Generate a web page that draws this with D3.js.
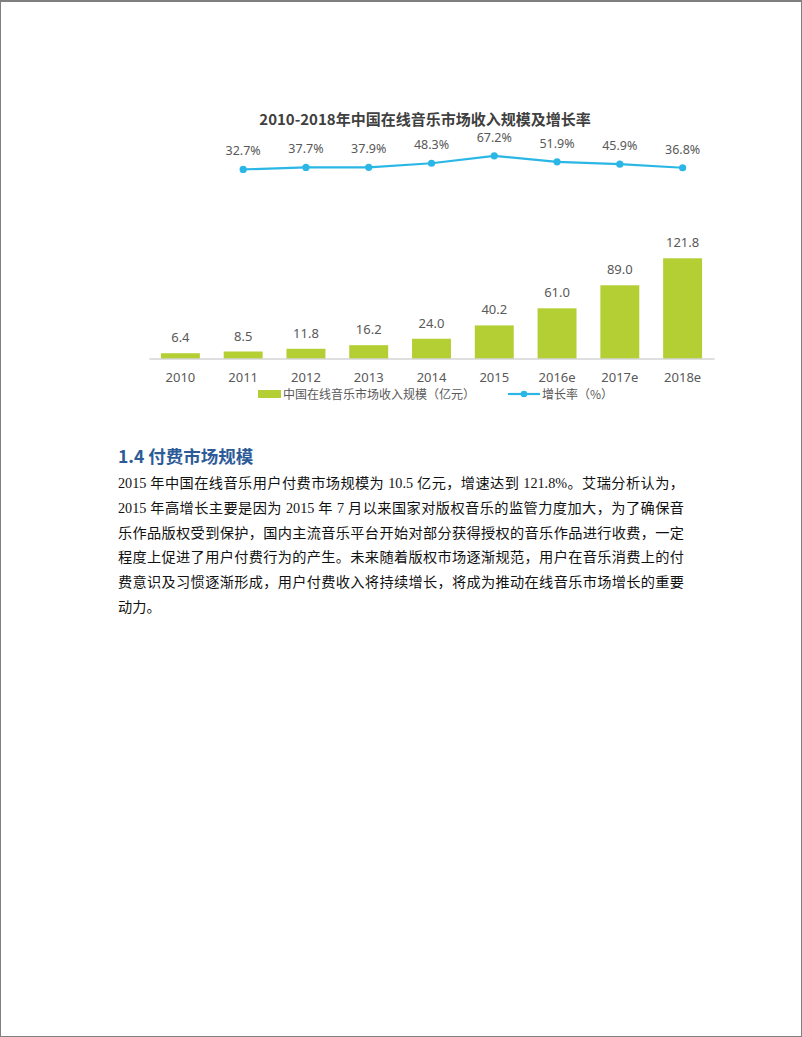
<!DOCTYPE html>
<html>
<head>
<meta charset="utf-8">
<script src="https://cdn.jsdelivr.net/npm/d3@7"></script>
<style>
  body { margin: 0; background: #fff; }
  .page { position: relative; width: 802px; height: 1037px; box-sizing: border-box;
          border: 1px solid #7f7f7f; border-top-width: 2px; overflow: hidden; }
  svg { position: absolute; left: -1px; top: -2px; }
  .section { position: absolute; left: 117px; top: 442px; width: 566px; }
  .section h3 { margin: 0 0 3px 0; font: bold 17.5px "Noto Sans CJK SC", "Noto Sans", sans-serif;
                color: #2d5b98; line-height: 24px; }
  .section .ln { font: 14.2px "Liberation Serif", "Noto Sans CJK SC", serif; color: #111;
                 line-height: 24.8px; height: 24.8px; text-align: justify; text-align-last: justify;
                 white-space: nowrap; }
  .section .ln.last { text-align-last: left; }
</style>
</head>
<body>
<div class="page" id="page">
  <div class="section" id="section"></div>
</div>
<script>
const years = ["2010", "2011", "2012", "2013", "2014", "2015", "2016e", "2017e", "2018e"]
const revenue = [6.4, 8.5, 11.8, 16.2, 24.0, 40.2, 61.0, 89.0, 121.8]
// growth starts at 2011
const growthYears = ["2011", "2012", "2013", "2014", "2015", "2016e", "2017e", "2018e"]
const growth = [32.7, 37.7, 37.9, 48.3, 67.2, 51.9, 45.9, 36.8]

const title = "2010-2018年中国在线音乐市场收入规模及增长率"
const legendBar = "中国在线音乐市场收入规模（亿元）"
const legendLine = "增长率（%）"

const heading = "1.4 付费市场规模"
const bodyLines = [
    "2015 年中国在线音乐用户付费市场规模为 10.5 亿元，增速达到 121.8%。艾瑞分析认为，",
    "2015 年高增长主要是因为 2015 年 7 月以来国家对版权音乐的监管力度加大，为了确保音",
    "乐作品版权受到保护，国内主流音乐平台开始对部分获得授权的音乐作品进行收费，一定",
    "程度上促进了用户付费行为的产生。未来随着版权市场逐渐规范，用户在音乐消费上的付",
    "费意识及习惯逐渐形成，用户付费收入将持续增长，将成为推动在线音乐市场增长的重要",
    "动力。"
]

const barColor = "#b3cf33"
const lineColor = "#2bb7e6"
const textColor = "#595959"
const font = "'Noto Sans', 'Open Sans', 'Noto Sans CJK SC', sans-serif"

const svg = d3.select("#page").insert("svg", ":first-child")
    .attr("width", 802)
    .attr("height", 430)

// title
svg.append("text")
    .attr("x", 425)
    .attr("y", 125)
    .attr("text-anchor", "middle")
    .style("font-family", "'Noto Sans CJK SC', sans-serif")
    .style("font-weight", "bold")
    .style("font-size", "15px")
    .attr("fill", "#404040")
    .text(title)

// scales
const x = d3.scaleBand()
    .domain(years)
    .range([149, 714])
    .paddingInner(0.38)
    .paddingOuter(0.19)

const y = d3.scaleLinear()
    .domain([0, 150])
    .range([358.5, 235.1])

const yLine = d3.scaleLinear()
    .domain([0, 100])
    .range([182.2, 143])

// bars
svg.append("g").selectAll("rect")
    .data(revenue)
    .join("rect")
    .attr("x", (d, i) => x(years[i]))
    .attr("y", d => y(d))
    .attr("width", x.bandwidth())
    .attr("height", d => y(0) - y(d))
    .attr("fill", barColor)

svg.append("g").selectAll("text")
    .data(revenue)
    .join("text")
    .attr("x", (d, i) => x(years[i]) + x.bandwidth() / 2)
    .attr("y", d => y(d) - 11)
    .attr("text-anchor", "middle")
    .style("font-family", font)
    .style("font-size", "13px")
    .attr("fill", textColor)
    .text(d => d.toFixed(1))

// x axis
const xAxis = svg.append("g")
    .attr("transform", `translate(0, ${y(0)})`)
    .call(d3.axisBottom(x).tickSize(0).tickPadding(14))
xAxis.select(".domain").attr("stroke", "#bfbfbf").attr("stroke-width", 1.2)
xAxis.selectAll("text")
    .style("font-family", font)
    .style("font-size", "13px")
    .attr("fill", textColor)

// growth line
const cx = d => x(d) + x.bandwidth() / 2
const line = d3.line()
    .x((d, i) => cx(growthYears[i]))
    .y(d => yLine(d))

svg.append("path")
    .datum(growth)
    .attr("fill", "none")
    .attr("stroke", lineColor)
    .attr("stroke-width", 2.2)
    .attr("stroke-linejoin", "round")
    .attr("d", line)

svg.append("g").selectAll("circle")
    .data(growth)
    .join("circle")
    .attr("cx", (d, i) => cx(growthYears[i]))
    .attr("cy", d => yLine(d))
    .attr("r", 3.6)
    .attr("fill", lineColor)

svg.append("g").selectAll("text")
    .data(growth)
    .join("text")
    .attr("x", (d, i) => cx(growthYears[i]))
    .attr("y", d => yLine(d) - 14)
    .attr("text-anchor", "middle")
    .style("font-family", font)
    .style("font-size", "12.5px")
    .attr("fill", textColor)
    .text(d => d.toFixed(1) + "%")

// legend
const legend = svg.append("g").attr("transform", "translate(0, 394)")
legend.append("rect")
    .attr("x", 258).attr("y", -4)
    .attr("width", 23).attr("height", 8)
    .attr("fill", barColor)
legend.append("text")
    .attr("x", 283).attr("y", 4.5)
    .style("font-family", "'Noto Sans CJK SC', sans-serif")
    .style("font-size", "12px")
    .attr("fill", textColor)
    .text(legendBar)
legend.append("line")
    .attr("x1", 508).attr("x2", 540)
    .attr("stroke", lineColor).attr("stroke-width", 2.2)
legend.append("circle")
    .attr("cx", 524).attr("r", 3.3)
    .attr("fill", lineColor)
legend.append("text")
    .attr("x", 542).attr("y", 4.5)
    .style("font-family", "'Noto Sans CJK SC', sans-serif")
    .style("font-size", "12px")
    .attr("fill", textColor)
    .text(legendLine)

// section text
const section = d3.select("#section")
section.append("h3").text(heading)
section.selectAll("div.ln")
    .data(bodyLines)
    .join("div")
    .attr("class", (d, i) => i === bodyLines.length - 1 ? "ln last" : "ln")
    .text(d => d)
</script>
</body>
</html>
